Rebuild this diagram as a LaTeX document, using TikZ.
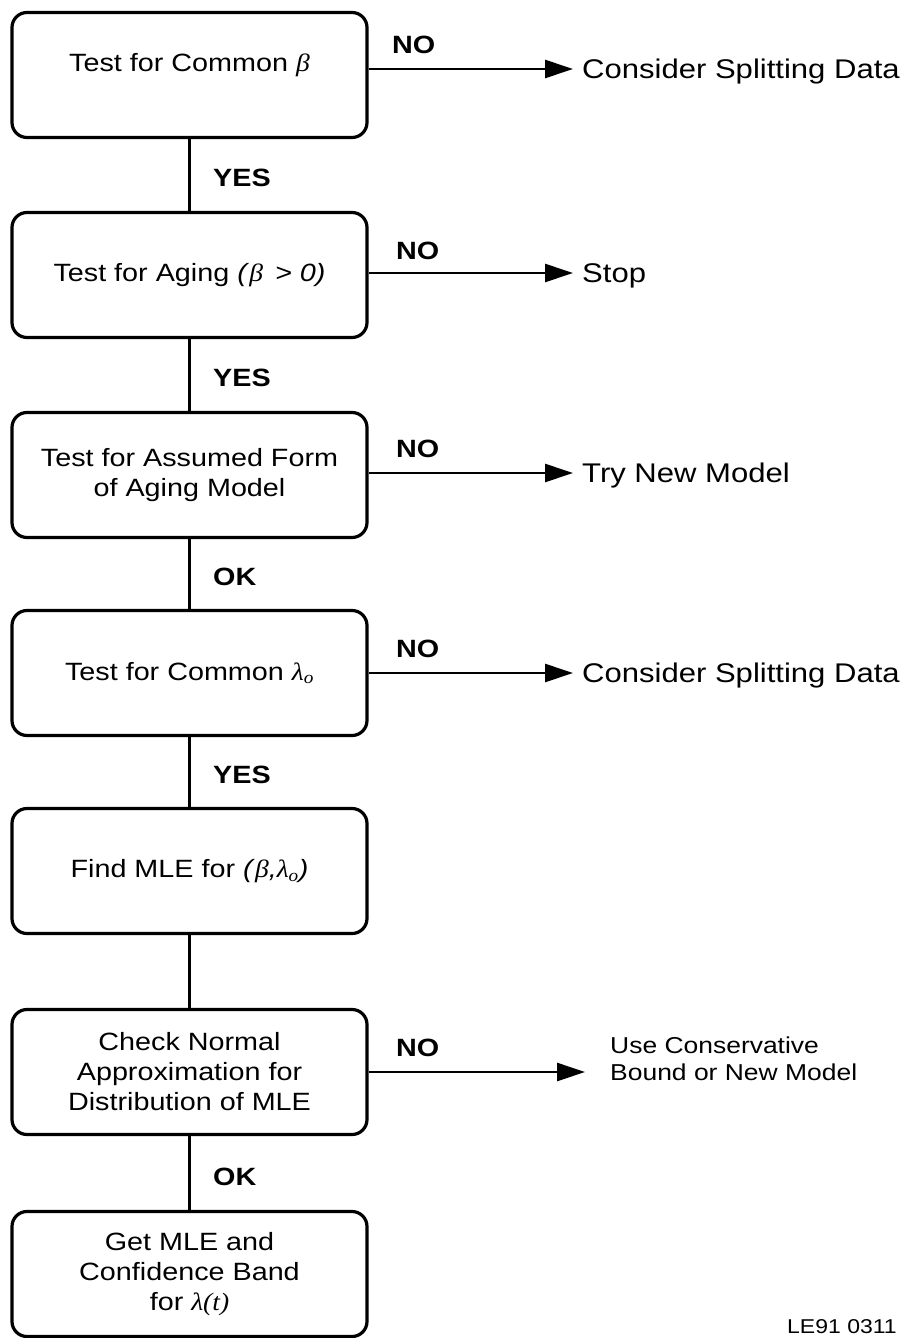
\documentclass[tikz,border=0pt]{standalone}
\usepackage{fontspec}
\setmainfont{Liberation Sans}[FakeStretch=1.15]
\newfontfamily\gkfont{Liberation Serif}[FakeStretch=1.1]
\usetikzlibrary{arrows.meta}
\newcommand\gk[1]{{\gkfont\itshape #1}}
\begin{document}
\begin{tikzpicture}[x=1pt,y=-1pt,
  stepbox/.style={draw, line width=3.2pt, rounded corners=15pt,
    minimum width=355pt, minimum height=125pt, align=center,
    font=\fontsize{25}{30}\selectfont, inner sep=0pt},
  link/.style={line width=2.4pt},
  noarrow/.style={line width=2.6pt, -{Triangle[length=28pt,width=18pt]}},
  lbl/.style={font=\fontsize{25}{30}\selectfont\bfseries, anchor=base west, inner sep=0pt},
  outtext/.style={font=\fontsize{27}{31}\selectfont, anchor=base west, align=left, inner sep=0pt}]
\useasboundingbox (0,0) rectangle (911,1338);

% boxes
\node[stepbox] (b1) at (189.5,75) {\raisebox{26pt}{Test for Common \gk{β}}};
\node[stepbox] (b2) at (189.5,275) {Test for Aging \textit{(}\gk{β}\,\textit{~>~0)}};
\node[stepbox] (b3) at (189.5,475) {Test for Assumed Form\\of Aging Model};
\node[stepbox] (b4) at (189.5,673) {Test for Common \gk{λ}\textsubscript{\gk{o}}};
\node[stepbox] (b5) at (189.5,871) {\raisebox{-10pt}{Find MLE for \textit{(}\gk{β}\textit{,}\gk{λ}\textsubscript{\gk{o}}\textit{)}}};
\node[stepbox] (b6) at (189.5,1072) {Check Normal\\Approximation for\\Distribution of MLE};
\node[stepbox] (b7) at (189.5,1274) {Get MLE and\\Confidence Band\\for \gk{λ(t)}};

% vertical links
\draw[link] (b1) -- (b2);
\draw[link] (b2) -- (b3);
\draw[link] (b3) -- (b4);
\draw[link] (b4) -- (b5);
\draw[link] (b5) -- (b6);
\draw[link] (b6) -- (b7);

\node[lbl] (y1) at (213,186) {YES};
\node[lbl] (y2) at (213,386) {YES};
\node[lbl] (k3) at (213,585) {OK};
\node[lbl] (y4) at (213,783) {YES};
\node[lbl] (k6) at (213,1185) {OK};

% NO branches
\coordinate (a1) at (573,69);
\coordinate (a2) at (573,273);
\coordinate (a3) at (573,473);
\coordinate (a4) at (573,673);
\coordinate (a6) at (585,1072);

\draw[noarrow] (b1.east |- a1) -- (a1);
\draw[noarrow] (b2.east |- a2) -- (a2);
\draw[noarrow] (b3.east |- a3) -- (a3);
\draw[noarrow] (b4.east |- a4) -- (a4);
\draw[noarrow] (b6.east |- a6) -- (a6);

\node[lbl] (n1) at (392,53) {NO};
\node[lbl] (n2) at (396,259) {NO};
\node[lbl] (n3) at (396,457) {NO};
\node[lbl] (n4) at (396,657) {NO};
\node[lbl] (n6) at (396,1056) {NO};

\node[outtext] (r1) at (582,78) {Consider Splitting Data};
\node[outtext] (r2) at (582,282) {Stop};
\node[outtext] (r3) at (582,482) {Try New Model};
\node[outtext] (r4) at (582,682) {Consider Splitting Data};
\node[outtext, font=\fontsize{23}{27}\selectfont] (r6) at (610,1080) {Use Conservative\\Bound or New Model};

\node[outtext, font=\fontsize{20}{24}\selectfont] (id) at (787,1333) {LE91 0311};
\end{tikzpicture}
\end{document}
